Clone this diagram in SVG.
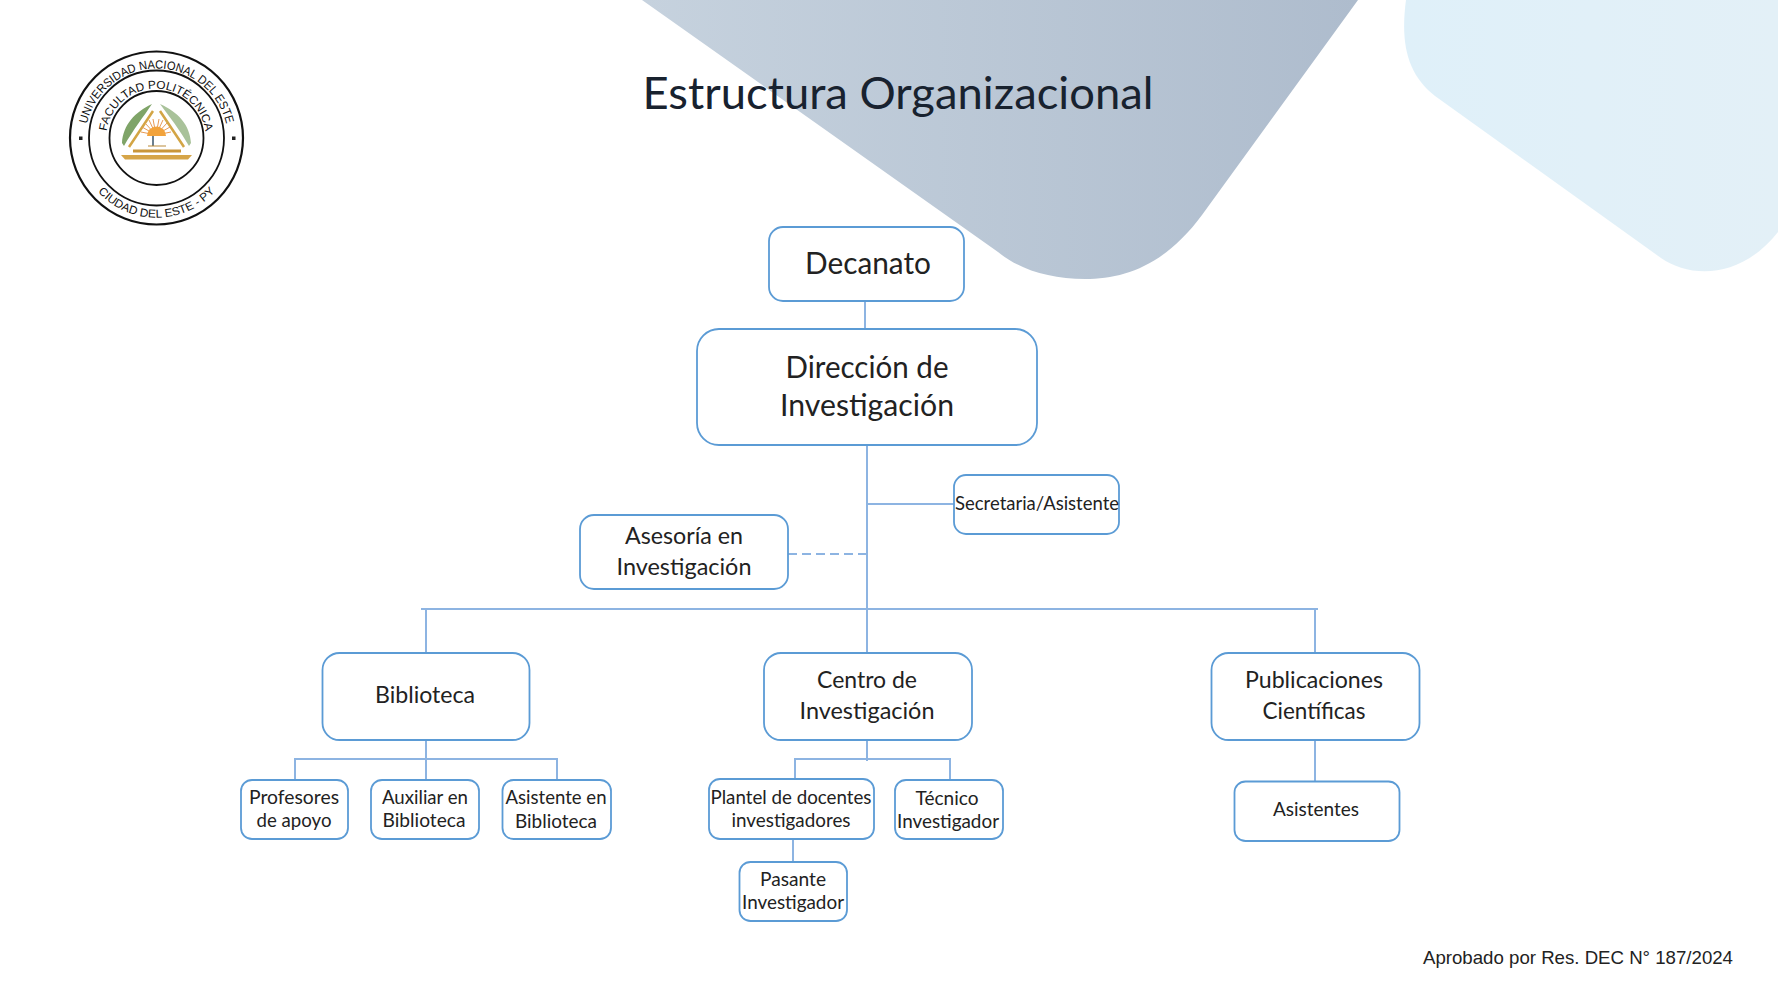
<svg xmlns="http://www.w3.org/2000/svg" width="1778" height="1000" viewBox="0 0 1778 1000">
<style>
.n{fill:#fff;stroke:#5b9bd5;stroke-width:1.800}
.c{fill:none;stroke:#8db4e2;stroke-width:2}
text{font-family:"Lato","Liberation Sans",sans-serif;fill:#222;text-anchor:middle}
.xl{font-size:30px}.l{font-size:24px}.m{font-size:19px}
.s{font-family:"Liberation Sans",Arial,sans-serif;font-weight:400;fill:#111}
.r{stroke:#e89a55;stroke-width:1;fill:none}
</style>
<defs>
<linearGradient id="g1" x1="0" y1="0" x2="1" y2="0"><stop offset="0" stop-color="#c6d2de"/><stop offset="1" stop-color="#aebccd"/></linearGradient>
<linearGradient id="g2" x1="0" y1="0" x2="1" y2="0"><stop offset="0" stop-color="#dff0f9"/><stop offset="1" stop-color="#e3f0f7"/></linearGradient>
<path id="a1" d="M88.800 163A71.500 71.500 0 1 1 224.200 163"/>
<path id="a2" d="M109 155.700A50 50 0 1 1 203 155.700"/>
<path id="a3" d="M82.200 165.500A79 79 0 0 0 230.800 165.500"/>
</defs>
<g id="background">
<path d="M642 0L1358 0L1202 215C1165 265 1125 279 1085 279C1050 279 1020 270 998 252Z" fill="url(#g1)"/>
<path d="M1406 0C1400 45 1408 75 1435 96L1661 258C1690 278 1740 280 1778 232L1778 0Z" fill="url(#g2)"/>
</g>
<g id="seal">
<circle cx="156.500" cy="138" r="86.500" fill="#fff" stroke="#111" stroke-width="2.200"/>
<circle cx="156.500" cy="138" r="67.500" fill="none" stroke="#111" stroke-width="1.800"/>
<circle cx="156.500" cy="138" r="47" fill="none" stroke="#111" stroke-width="1.800"/>
<rect x="79" y="136.500" width="3.500" height="3.500" fill="#222"/><rect x="232" y="136.500" width="3.500" height="3.500" fill="#222"/>
<text class="s" font-size="12"><textPath href="#a1" startOffset="50%" textLength="192" lengthAdjust="spacingAndGlyphs">UNIVERSIDAD NACIONAL DEL ESTE</textPath></text>
<text class="s" font-size="11.500"><textPath href="#a2" startOffset="50%" textLength="142" lengthAdjust="spacingAndGlyphs">FACULTAD POLITÉCNICA</textPath></text>
<text class="s" font-size="11.500"><textPath href="#a3" startOffset="50%" textLength="132" lengthAdjust="spacingAndGlyphs">CIUDAD DEL ESTE - PY</textPath></text>
<path d="M122 143C123 125 135 112 152 104C144 116 133 130 124 146Z" fill="#7fa468"/>
<path d="M191 143C190 125 178 112 160 104C169 116 180 130 189 146Z" fill="#a9c29a"/>
<path d="M129 147L153 111M184 147L160 111" fill="none" stroke="#d3a545" stroke-width="2.500"/>
<path class="r" d="M156 135L142 127M156 135L145 123M156 135L149 120M156 135L153 119M156 135L159 119M156 135L163 120M156 135L167 123M156 135L170 127M156 135L141 132M156 135L171 132"/>
<path d="M147 136A9.500 9.500 0 0 1 166 136Z" fill="#f2a33c"/>
<path d="M148 136H165V146H148Z" fill="#fff"/>
<path d="M153 136V146" stroke="#3a5568" stroke-width="1.500"/>
<path d="M148 146H166" stroke="#b98a3a" stroke-width="1"/>
<rect x="133" y="149.500" width="48" height="3" fill="#c9963a"/>
<path d="M121 155H192L188 159.500H125Z" fill="#d6a548"/>
</g>
<g id="connectors">
<path class="c" d="M865 301V329"/>
<path class="c" d="M867 446V653"/>
<path class="c" d="M866 504H954"/>
<path class="c" d="M788 554H867" stroke-dasharray="9 5"/>
<path class="c" d="M421 609H1318"/>
<path class="c" d="M426 609V653"/>
<path class="c" d="M1315 609V653"/>
<path class="c" d="M426 741V780"/>
<path class="c" d="M295 780V759H557V780"/>
<path class="c" d="M867 741V761"/>
<path class="c" d="M795 779V759H950V780"/>
<path class="c" d="M793 839V862"/>
<path class="c" d="M1315 741V781"/>
</g>
<g id="title"><text x="898" y="109" font-size="44" textLength="511" lengthAdjust="spacingAndGlyphs" style="fill:#18222f">Estructura Organizacional</text></g>
<g id="decanato"><rect class="n" x="769" y="227" width="195" height="74" rx="14"/><text class="xl" x="868" y="274" textLength="126" lengthAdjust="spacingAndGlyphs">Decanato</text></g>
<g id="direccion"><rect class="n" x="697" y="329" width="340" height="116" rx="22"/><text class="xl" x="867" y="378" textLength="163" lengthAdjust="spacingAndGlyphs">Dirección de</text><text class="xl" x="867" y="416" textLength="174" lengthAdjust="spacingAndGlyphs">Investigación</text></g>
<g id="secretaria"><rect class="n" x="954" y="475" width="165" height="59" rx="12"/><text class="m" x="1037" y="510" textLength="164" lengthAdjust="spacingAndGlyphs">Secretaria/Asistente</text></g>
<g id="asesoria"><rect class="n" x="580" y="515" width="208" height="74" rx="14"/><text class="l" x="684" y="544" textLength="118" lengthAdjust="spacingAndGlyphs">Asesoría en</text><text class="l" x="684" y="575" textLength="135" lengthAdjust="spacingAndGlyphs">Investigación</text></g>
<g id="biblioteca"><rect class="n" x="322.500" y="653" width="207" height="87" rx="17"/><text class="l" x="425" y="703" textLength="100" lengthAdjust="spacingAndGlyphs">Biblioteca</text></g>
<g id="centro"><rect class="n" x="764" y="653" width="208" height="87" rx="17"/><text class="l" x="867" y="688" textLength="100" lengthAdjust="spacingAndGlyphs">Centro de</text><text class="l" x="867" y="719" textLength="135" lengthAdjust="spacingAndGlyphs">Investigación</text></g>
<g id="publicaciones"><rect class="n" x="1211.500" y="653" width="208" height="87" rx="17"/><text class="l" x="1314" y="688" textLength="138" lengthAdjust="spacingAndGlyphs">Publicaciones</text><text class="l" x="1314" y="719" textLength="103" lengthAdjust="spacingAndGlyphs">Científicas</text></g>
<g id="profesores"><rect class="n" x="241" y="780" width="107" height="59" rx="11"/><text class="m" x="294" y="804" textLength="90" lengthAdjust="spacingAndGlyphs">Profesores</text><text class="m" x="294" y="827" textLength="75" lengthAdjust="spacingAndGlyphs">de apoyo</text></g>
<g id="auxiliar"><rect class="n" x="371" y="780" width="108" height="59" rx="11"/><text class="m" x="425" y="804" textLength="86" lengthAdjust="spacingAndGlyphs">Auxiliar en</text><text class="m" x="424" y="827" textLength="83" lengthAdjust="spacingAndGlyphs">Biblioteca</text></g>
<g id="asistente"><rect class="n" x="502.500" y="780" width="108.500" height="59" rx="11"/><text class="m" x="556" y="804" textLength="101" lengthAdjust="spacingAndGlyphs">Asistente en</text><text class="m" x="556" y="828" textLength="82" lengthAdjust="spacingAndGlyphs">Biblioteca</text></g>
<g id="plantel"><rect class="n" x="709" y="779" width="165" height="60" rx="11"/><text class="m" x="791" y="804" textLength="161" lengthAdjust="spacingAndGlyphs">Plantel de docentes</text><text class="m" x="791" y="827" textLength="119" lengthAdjust="spacingAndGlyphs">investigadores</text></g>
<g id="tecnico"><rect class="n" x="895" y="780" width="108" height="59" rx="11"/><text class="m" x="947" y="805" textLength="63" lengthAdjust="spacingAndGlyphs">Técnico</text><text class="m" x="948" y="828" textLength="102" lengthAdjust="spacingAndGlyphs">Investigador</text></g>
<g id="pasante"><rect class="n" x="739.500" y="862" width="107.500" height="59" rx="11"/><text class="m" x="793" y="886" textLength="66" lengthAdjust="spacingAndGlyphs">Pasante</text><text class="m" x="793" y="909" textLength="102" lengthAdjust="spacingAndGlyphs">Investigador</text></g>
<g id="asistentes"><rect class="n" x="1234.500" y="781.500" width="165" height="59.500" rx="11"/><text class="m" x="1316" y="816" textLength="86" lengthAdjust="spacingAndGlyphs">Asistentes</text></g>
<g id="footer"><text x="1578" y="963.500" font-size="18.500" textLength="310" lengthAdjust="spacingAndGlyphs" style="font-family:'Liberation Sans',Arial,sans-serif;fill:#222">Aprobado por Res. DEC N° 187/2024</text></g>
</svg>
